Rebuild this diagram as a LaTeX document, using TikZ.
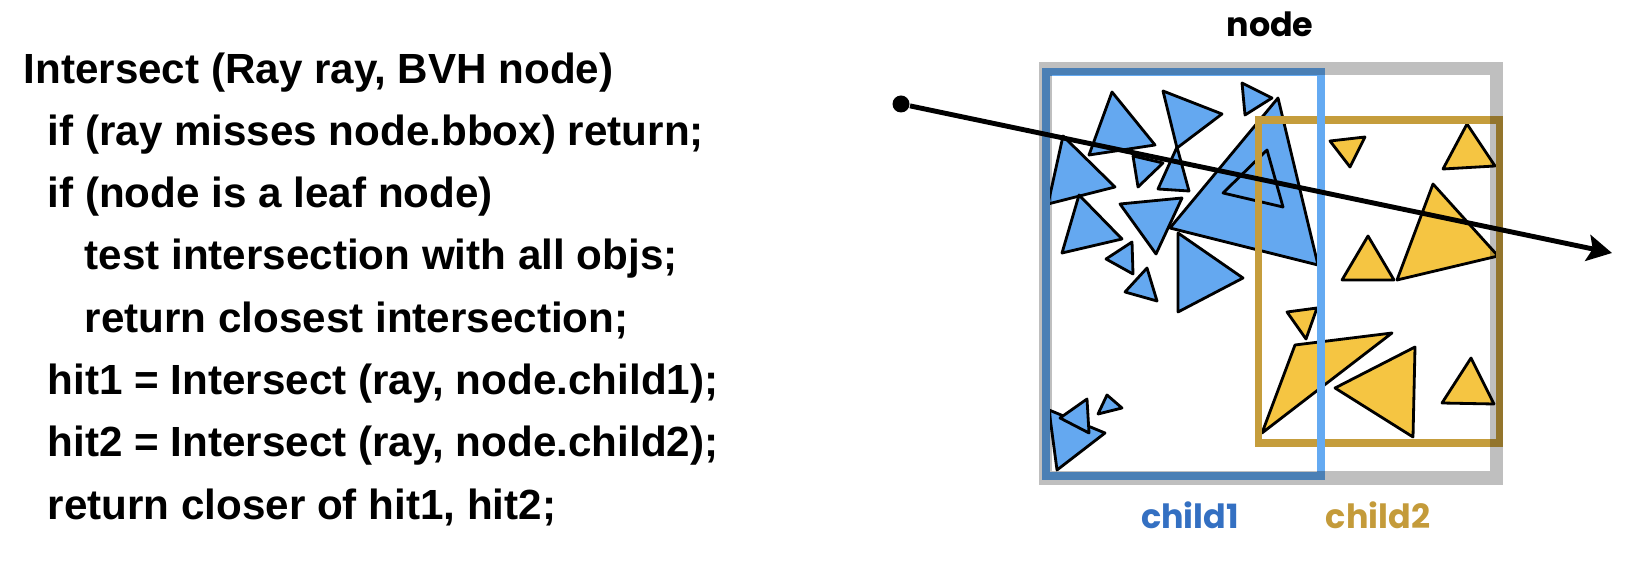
\documentclass[tikz,border=0pt]{standalone}
\usepackage{fontspec}
\setmainfont{Liberation Sans}
\newfontfamily\labelfont{Poppins}
\usetikzlibrary{arrows.meta}

\definecolor{triblue}{RGB}{100,168,240}
\definecolor{triyellow}{RGB}{245,197,66}
\definecolor{boxblue}{RGB}{100,170,242}
\definecolor{boxgold}{RGB}{197,157,60}
\definecolor{childblue}{RGB}{52,112,194}
\definecolor{childgold}{RGB}{196,155,58}

\begin{document}
\begin{tikzpicture}[x=0.1mm,y=-0.1mm,
  codeline/.style={anchor=base west,inner sep=0pt,font=\fontsize{12}{14}\selectfont\bfseries},
  boxlabel/.style={anchor=base,inner sep=0pt,font=\labelfont\fontsize{9.5}{11}\selectfont\bfseries},
  tri/.style={draw=black,line width=0.8pt,line join=round},
  bluetri/.style={tri,fill=triblue},
  yellowtri/.style={tri,fill=triyellow},
  goldbox/.style={draw=boxgold,line width=2pt},
  bluebox/.style={draw=boxblue,line width=2.3pt},
  greybox/.style={draw=black,draw opacity=0.25,line width=3.7pt},
  dot/.style={circle,fill=black,inner sep=0pt,minimum size=1.7mm},
  ray/.style={line width=1.4pt,-{Stealth[length=7pt,width=7.5pt,inset=1.4pt]}}]
\useasboundingbox (0,0) rectangle (1644,586);

% pseudocode
\node[codeline] (l1) at (23,84) {Intersect (Ray ray, BVH node)};
\node[codeline] (l2) at (47,146) {if (ray misses node.bbox) return;};
\node[codeline] (l3) at (47,208) {if (node is a leaf node)};
\node[codeline] (l4) at (84,270) {test intersection with all objs;};
\node[codeline] (l5) at (84,333) {return closest intersection;};
\node[codeline] (l6) at (47,395) {hit1 = Intersect (ray, node.child1);};
\node[codeline] (l7) at (47,457) {hit2 = Intersect (ray, node.child2);};
\node[codeline] (l8) at (47,519) {return closer of hit1, hit2;};

% objects of child1
\draw[bluetri] (1112,92) -- (1155,145) -- (1089,155) -- cycle;
\draw[bluetri] (1163,91) -- (1222,114) -- (1177,148) -- cycle;
\draw[bluetri] (1242,83) -- (1272,98) -- (1245,115) -- cycle;
\draw[bluetri] (1278,98) -- (1318,265) -- (1170,228) -- cycle;
\draw[bluetri] (1267,150) -- (1283,207) -- (1223,193) -- cycle;
\draw[bluetri] (1063,136) -- (1115,187) -- (1048,204) -- cycle;
\draw[bluetri] (1133,156) -- (1163,163) -- (1138,187) -- cycle;
\draw[bluetri] (1177,147) -- (1189,191) -- (1158,189) -- cycle;
\draw[bluetri] (1079,195) -- (1122,239) -- (1062,253) -- cycle;
\draw[bluetri] (1120,204) -- (1182,198) -- (1156,254) -- cycle;
\draw[bluetri] (1132,242) -- (1133,274) -- (1106,259) -- cycle;
\draw[bluetri] (1147,268) -- (1157,301) -- (1125,292) -- cycle;
\draw[bluetri] (1178,233) -- (1243,278) -- (1178,312) -- cycle;
\draw[bluetri] (1049,410) -- (1105,433) -- (1057,470) -- cycle;
\draw[bluetri] (1087,399) -- (1089,433) -- (1060,418) -- cycle;
\draw[bluetri] (1107,395) -- (1122,408) -- (1098,414) -- cycle;

% objects of child2
\draw[yellowtri] (1330,141) -- (1365,137) -- (1350,167) -- cycle;
\draw[yellowtri] (1467,124) -- (1495,166) -- (1443,169) -- cycle;
\draw[yellowtri] (1433,184) -- (1498,256) -- (1397,280) -- cycle;
\draw[yellowtri] (1368,236) -- (1394,280) -- (1342,280) -- cycle;
\draw[yellowtri] (1287,312) -- (1317,308) -- (1306,339) -- cycle;
\draw[yellowtri] (1295,345) -- (1392,333) -- (1262,433) -- cycle;
\draw[yellowtri] (1415,347) -- (1413,437) -- (1335,388) -- cycle;
\draw[yellowtri] (1471,358) -- (1494,404) -- (1442,403) -- cycle;

% bounding boxes
\draw[goldbox] (1258,120) rectangle (1499,443);
\draw[bluebox] (1046,72) rectangle (1321,476);
\draw[greybox] (1045,69) rectangle (1496,478);

% box labels
\node[boxlabel] (nodelbl) at (1270,37) {node};
\node[boxlabel,text=childblue] (child1lbl) at (1190,528) {child1};
\node[boxlabel,text=childgold] (child2lbl) at (1378,528) {child2};

% the ray
\node[dot] (src) at (901,104) {};
\coordinate (tip) at (1612,253);
\draw[ray] (src) -- (tip);
\end{tikzpicture}
\end{document}
